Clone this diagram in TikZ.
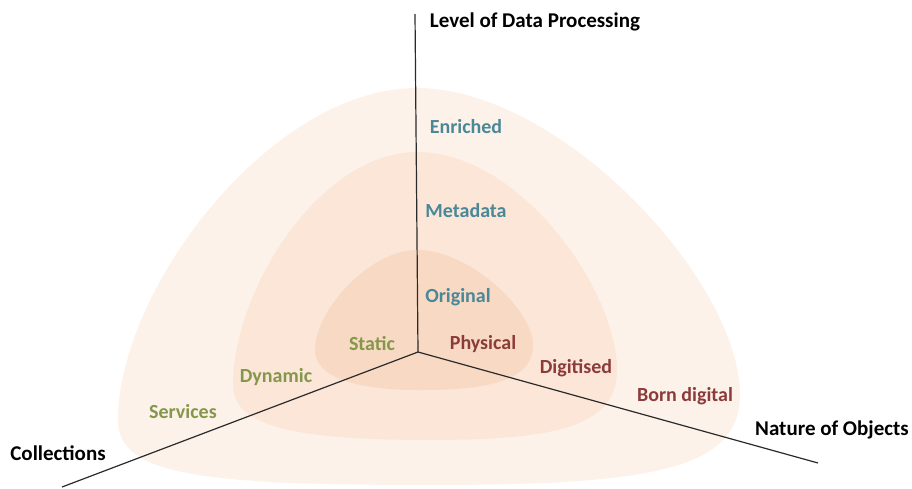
\documentclass[tikz,border=0pt]{standalone}
\usepackage{fontspec}
\setmainfont{Carlito}
\usepackage{tikz}

\definecolor{outerfill}{HTML}{FDF2EA}
\definecolor{middlefill}{HTML}{FBE6D8}
\definecolor{innerfill}{HTML}{F8D9C3}
\definecolor{levelcol}{HTML}{4A8898}
\definecolor{collcol}{HTML}{84974A}
\definecolor{naturecol}{HTML}{8C3B3B}
\definecolor{axiscol}{HTML}{2A2A2A}

\tikzset{
  axistitle/.style={font=\bfseries\fontsize{21}{24}\selectfont, text=black, inner sep=0pt},
  level/.style={font=\bfseries\fontsize{20}{23}\selectfont, text=levelcol, inner sep=0pt},
  coll/.style={font=\bfseries\fontsize{20}{23}\selectfont, text=collcol, inner sep=0pt},
  nature/.style={font=\bfseries\fontsize{20}{23}\selectfont, text=naturecol, inner sep=0pt},
  axisline/.style={draw=axiscol, line width=1.2pt}
}

\begin{document}
\begin{tikzpicture}[x=1pt, y=-1pt]

\useasboundingbox (0,0) rectangle (912,488);

% Draw the three nested regions, outer one first
\fill[outerfill] (417,88) .. controls (560,88) and (740,280) .. (740,395)
  .. controls (740,470) and (650,485) .. (430,485)
  .. controls (200,485) and (118,475) .. (118,420)
  .. controls (118,290) and (270,88) .. (417,88);
\fill[middlefill] (417,152) .. controls (520,152) and (617,290) .. (617,370)
  .. controls (617,425) and (560,440) .. (430,440)
  .. controls (290,440) and (233,425) .. (233,385)
  .. controls (233,290) and (320,152) .. (417,152);
\fill[innerfill] (417,250) .. controls (470,250) and (533,310) .. (533,345)
  .. controls (533,380) and (490,390) .. (420,390)
  .. controls (350,390) and (315,375) .. (315,350)
  .. controls (315,310) and (370,250) .. (417,250);

% Draw the three axes from the origin
\coordinate (origin) at (418,352);
\coordinate (levelend) at (415,14);
\coordinate (collend) at (62,487);
\coordinate (natureend) at (818,463);
\draw[axisline] (origin) -- (levelend);
\draw[axisline] (origin) -- (collend);
\draw[axisline] (origin) -- (natureend);

% Axis titles
\node[axistitle] (leveltitle) at (535,22) {Level of Data Processing};
\node[axistitle] (colltitle) at (58,453) {Collections};
\node[axistitle] (naturetitle) at (832,430) {Nature of Objects};

% Labels along the level axis
\node[level] (enriched) at (466,127) {Enriched};
\node[level] (metadata) at (466,211) {Metadata};
\node[level] (original) at (458,297) {Original};

% Labels along the collections axis
\node[coll] (static) at (372,344) {Static};
\node[coll] (dynamic) at (276,377) {Dynamic};
\node[coll] (services) at (183,412) {Services};

% Labels along the nature axis
\node[nature] (physical) at (483,344) {Physical};
\node[nature] (digitised) at (576,368) {Digitised};
\node[nature] (borndigital) at (685,396) {Born digital};

\end{tikzpicture}
\end{document}
